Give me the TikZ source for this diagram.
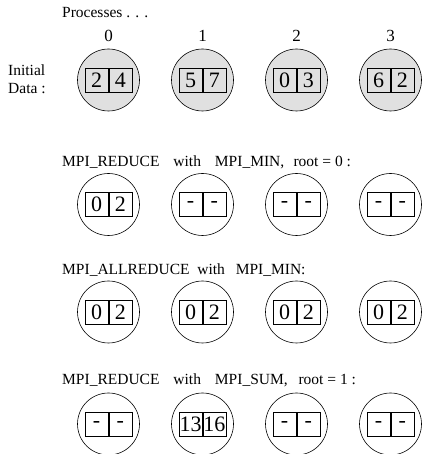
\documentclass[tikz,border=0pt]{standalone}
\usepackage{fontspec}
\setmainfont{Liberation Serif}
\usepackage{tikz}
\tikzset{
  proc/.style={draw, circle, line width=0.6pt, minimum size=62pt, inner sep=0pt},
  init/.style={fill=black!12},
  cell/.style={draw, line width=0.7pt, minimum width=23pt, minimum height=24pt, inner sep=0pt, font=\fontsize{22}{22}\selectfont},
  caption/.style={anchor=base west, inner sep=0pt, font=\fontsize{15.5}{16}\selectfont},
  rank/.style={anchor=base, inner sep=0pt, font=\fontsize{17}{17}\selectfont}
}
\def\proc(#1,#2)#3#4#5#6{%
  \node[proc,#6] (#3) at (#1,#2) {};
  \node[cell,anchor=east] (#3a) at (#1,#2) {#4};
  \node[cell,anchor=west] (#3b) at (#1,#2) {#5};
}

\begin{document}
\begin{tikzpicture}[x=1pt,y=1pt]
			%%%%% START %%%%%
			\useasboundingbox (0,0) rectangle (422,454);
			
			\node[caption] (procs) at (62,436) {Processes . . .};
			\node[rank] (rank0) at (108.5,412.5) {0};
			\node[rank] (rank1) at (202.5,412.5) {1};
			\node[rank] (rank2) at (296.5,412.5) {2};
			\node[rank] (rank3) at (390.5,412.5) {3};
			\node[caption] (initial) at (8,378) {Initial};
			\node[caption] (data) at (8,360) {Data :};
			
			\proc(108.5,374){a0}{2}{4}{init}
			\proc(202.5,374){a1}{5}{7}{init}
			\proc(296.5,374){a2}{0}{3}{init}
			\proc(390.5,374){a3}{6}{2}{init}
			
			\node[caption] (reduce) at (62,287) {MPI\_REDUCE\hspace{0.9em}with\hspace{0.9em}MPI\_MIN,\hspace{0.6em}root = 0 :};
			\proc(108.5,249.5){b0}{0}{2}{}
			\proc(202.5,249.5){b1}{-}{-}{}
			\proc(296.5,249.5){b2}{-}{-}{}
			\proc(390.5,249.5){b3}{-}{-}{}
			
			\node[caption] (allreduce) at (62,179) {MPI\_ALLREDUCE\hspace{0.5em}with\hspace{0.7em}MPI\_MIN:};
			\proc(108.5,142){c0}{0}{2}{}
			\proc(202.5,142){c1}{0}{2}{}
			\proc(296.5,142){c2}{0}{2}{}
			\proc(390.5,142){c3}{0}{2}{}
			
			\node[caption] (sum) at (62,69) {MPI\_REDUCE\hspace{0.9em}with\hspace{0.9em}MPI\_SUM,\hspace{0.7em}root = 1 :};
			\proc(108.5,30){d0}{-}{-}{}
			\proc(202.5,30){d1}{13}{16}{}
			\proc(296.5,30){d2}{-}{-}{}
			\proc(390.5,30){d3}{-}{-}{}
			
			%%%%% END %%%%%
\end{tikzpicture}
\end{document}
